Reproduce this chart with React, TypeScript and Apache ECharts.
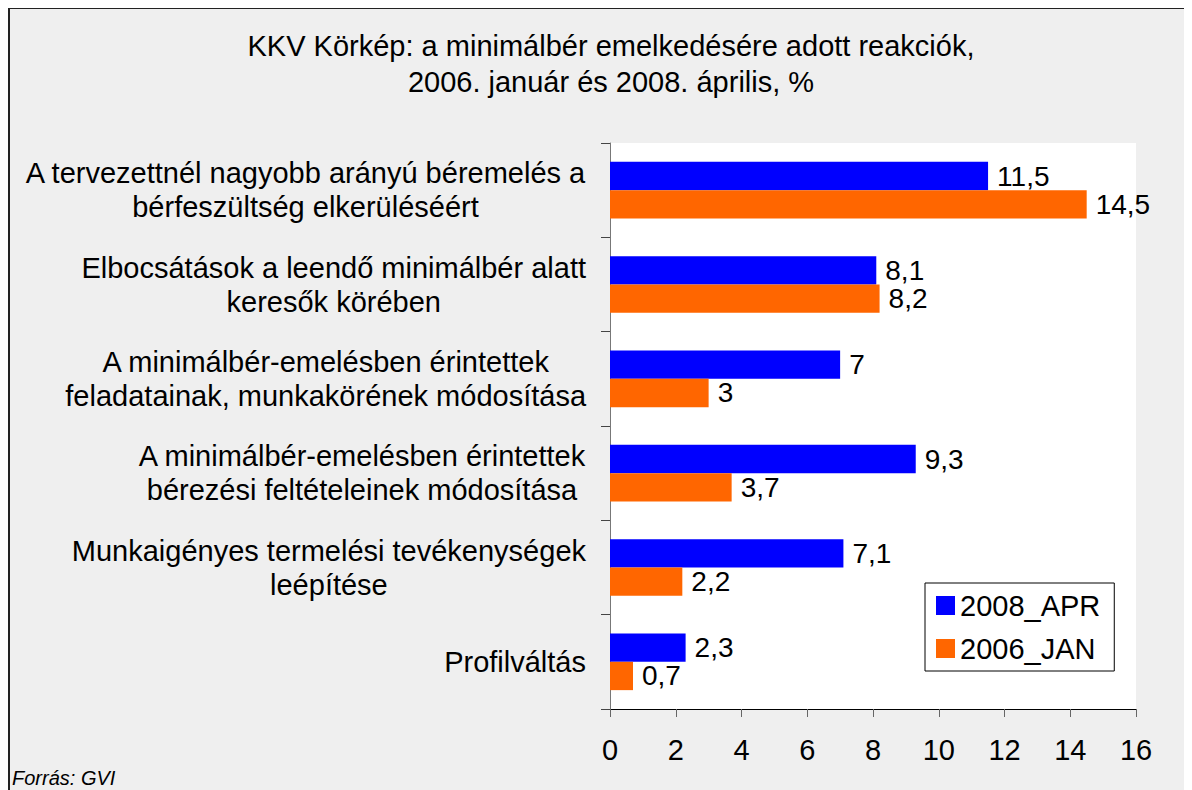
import React, { useEffect, useRef } from "react";
import * as echarts from "echarts";

const categories = [
  "A tervezettnél nagyobb arányú béremelés a\nbérfeszültség elkerüléséért",
  "Elbocsátások a leendő minimálbér alatt\nkeresők körében",
  "A minimálbér-emelésben érintettek\nfeladatainak, munkakörének módosítása",
  "A minimálbér-emelésben érintettek\nbérezési feltételeinek módosítása",
  "Munkaigényes termelési tevékenységek\nleépítése",
  "Profilváltás",
];
const seriesApr = [11.5, 8.1, 7, 9.3, 7.1, 2.3];
const seriesJan = [14.5, 8.2, 3, 3.7, 2.2, 0.7];
const seriesNames = ["2008_APR", "2006_JAN"];
const titleText = "KKV Körkép: a minimálbér emelkedésére adott reakciók,\n2006. január és 2008. április, %";
const sourceText = "Forrás: GVI";

const FONT = "'Liberation Sans', Arial, Helvetica, sans-serif";
const FS = 29;
const LABEL_FS = 28;

export default function App() {
  const ref = useRef<HTMLDivElement>(null);
  useEffect(() => {
    if (!ref.current) return;
    const chart = echarts.init(ref.current, null, { renderer: "svg" });
    const fmt = (p: any) => String(p.value).replace(".", ",");
    chart.setOption({
      animation: false,
      backgroundColor: "#efefef",
      textStyle: { fontFamily: FONT },
      title: {
        text: titleText,
        left: 598,
        top: 16,
        textAlign: "center",
        textStyle: { fontFamily: FONT, fontSize: FS, fontWeight: "normal", color: "#000", lineHeight: 36 },
      },
      grid: {
        left: 602,
        right: 56,
        top: 136,
        bottom: 81,
        show: true,
        backgroundColor: "#ffffff",
        borderWidth: 0,
        containLabel: false,
      },
      legend: {
        orient: "vertical",
        left: 917,
        top: 576,
        data: seriesNames,
        itemWidth: 19,
        itemHeight: 19,
        itemGap: 14,
        padding: [8, 14, 8, 11],
        backgroundColor: "#ffffff",
        borderColor: "#000",
        borderWidth: 1,
        borderRadius: 0,
        icon: "rect",
        textStyle: { fontFamily: FONT, fontSize: FS, color: "#000" },
      },
      xAxis: {
        type: "value",
        min: 0,
        max: 16,
        interval: 2,
        splitLine: { show: false },
        axisLine: { show: true, lineStyle: { color: "#000", width: 1 } },
        axisTick: { show: true, length: 8, lineStyle: { color: "#666" } },
        axisLabel: { fontFamily: FONT, fontSize: FS, color: "#000", margin: 26 },
      },
      yAxis: {
        type: "category",
        inverse: true,
        data: categories,
        axisLine: { show: true, lineStyle: { color: "#777", width: 1 } },
        axisTick: { show: true, length: 9, lineStyle: { color: "#444" } },
        axisLabel: {
          margin: 24,
          align: "right",
          fontFamily: FONT,
          fontSize: FS,
          color: "#000",
          formatter: (v: string) => v.split("\n").map((l) => `{c|${l}}`).join("\n"),
          rich: {
            c: { align: "center", fontFamily: FONT, fontSize: FS, color: "#000", lineHeight: 34 },
          },
        },
      },
      series: [
        {
          name: seriesNames[0],
          type: "bar",
          data: seriesApr,
          barGap: "0%",
          barCategoryGap: "40%",
          itemStyle: { color: "#0000ff" },
          label: { show: true, position: "right", distance: 9, formatter: fmt, fontFamily: FONT, fontSize: LABEL_FS, lineHeight: 26, color: "#000" },
        },
        {
          name: seriesNames[1],
          type: "bar",
          data: seriesJan,
          barGap: "0%",
          barCategoryGap: "40%",
          itemStyle: { color: "#ff6600" },
          label: { show: true, position: "right", distance: 9, formatter: fmt, fontFamily: FONT, fontSize: LABEL_FS, lineHeight: 26, color: "#000" },
        },
      ],
      graphic: [
        { type: "line", shape: { x1: 1, y1: 0, x2: 1, y2: 783 }, style: { stroke: "#222", lineWidth: 2 } },
        { type: "line", shape: { x1: 0, y1: 1, x2: 1184, y2: 1 }, style: { stroke: "#222", lineWidth: 2 } },
        {
          type: "text",
          left: 4,
          top: 761,
          style: { text: sourceText, fontFamily: FONT, fontSize: 20, fontStyle: "italic", fill: "#000" },
        },
      ],
    });
    return () => chart.dispose();
  }, []);
  return <div ref={ref} style={{ width: 1184, height: 783, marginTop: -1 }} />;
}
